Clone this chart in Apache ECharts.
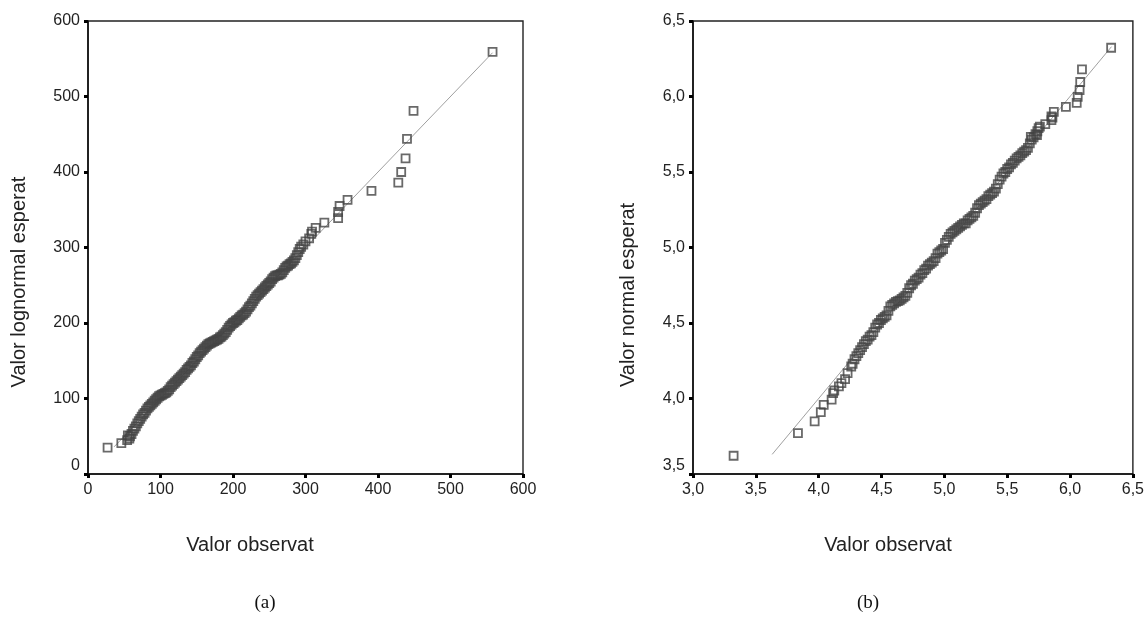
<!DOCTYPE html>
<html>
<head>
<meta charset="utf-8">
<script src="https://cdn.jsdelivr.net/npm/echarts@6/dist/echarts.min.js"></script>
<style>html,body{margin:0;padding:0;background:#fff}#c{width:1147px;height:618px}</style>
</head>
<body>
<div id="c"></div>
<script>
// ---- Panel (a): lognormal Q-Q plot ----
const obsA = [27,46,54,55,57,
58,60,62,64,66,68,70,72,74,76,78,80,82,84,86,88,90,92,94,96,98,100,102,104,106,108,110,112,114,116,118,120,122,124,126,128,130,132,134,136,138,140,142,144,146,148,150,152,154,156,158,160,162,164,166,168,170,172,174,176,178,180,182,184,186,188,190,192,194,196,198,200,202,204,206,208,210,212,214,216,218,220,222,224,226,228,230,232,234,236,238,240,242,244,246,248,250,252,254,256,258,260,262,264,266,268,270,272,274,276,278,280,282,284,286,288,290,
292,294,297,300,305,308,309,314,326,345,345,347,358,391,428,432,438,440,449,558];
const expA = [35,41,45,51,47,
50,53,57,60,63,67,70,73,76,79,81,84,87,89,91,93,95,97,99,101,103,104,105,106,107,108,110,112,115,117,119,121,123,125,127,129,131,133,135,138,140,142,144,147,149,152,155,157,160,162,164,166,168,170,172,173,174,175,176,177,178,179,181,182,184,186,188,191,194,196,198,200,201,203,204,206,208,210,211,213,215,218,221,223,226,229,232,235,237,239,241,243,245,247,249,251,253,255,258,260,262,263,263,264,265,267,270,273,275,276,278,279,281,283,286,290,294,
298,301,304,308,312,318,321,326,333,339,347,355,363,375,386,400,418,444,481,559];
const lineA = [[36,36],[558,558]];
const ticksXA = {min:0, max:600, step:100};
const ticksYA = {min:0, max:600, step:100};

// ---- Panel (b): normal Q-Q plot ----
const obsB = [3.323,3.835,3.968,4.017,4.040,4.103,4.115,4.124,4.161,4.181,4.210,4.230,4.259,
4.27,4.285,4.30,4.315,4.33,4.345,4.36,4.375,4.39,4.405,4.42,4.435,4.45,4.465,4.48,4.495,4.51,4.525,4.54,4.555,4.57,4.585,4.60,4.615,4.63,4.645,4.66,4.675,4.69,4.705,4.72,4.735,4.75,4.765,4.78,4.795,4.81,4.825,4.84,4.855,4.87,4.885,4.90,4.915,4.93,4.945,4.96,4.975,4.99,5.005,5.02,5.035,5.05,5.065,5.08,5.095,5.11,5.125,5.14,5.155,5.17,5.185,5.20,5.215,5.23,5.245,5.26,5.275,5.29,5.305,5.32,5.335,5.35,5.365,5.38,5.395,5.41,5.425,5.44,5.455,5.47,5.485,5.50,5.515,5.53,5.545,5.56,5.575,5.59,5.605,5.62,5.635,5.65,5.665,5.68,5.695,5.71,5.725,5.74,
5.688,5.737,5.75,5.76,5.803,5.852,5.852,5.86,5.871,5.967,6.053,6.061,6.076,6.081,6.095,6.327];
const expB = [3.621,3.771,3.848,3.910,3.958,3.992,4.036,4.053,4.080,4.102,4.128,4.168,4.212,
4.23,4.26,4.28,4.30,4.32,4.34,4.36,4.38,4.39,4.41,4.42,4.44,4.47,4.49,4.50,4.52,4.53,4.54,4.55,4.58,4.61,4.62,4.63,4.64,4.645,4.65,4.66,4.67,4.68,4.70,4.73,4.75,4.76,4.78,4.79,4.80,4.82,4.83,4.85,4.86,4.88,4.89,4.90,4.91,4.93,4.96,4.97,4.98,4.99,5.03,5.05,5.07,5.09,5.10,5.11,5.12,5.13,5.14,5.15,5.16,5.16,5.18,5.19,5.20,5.21,5.23,5.26,5.28,5.29,5.30,5.31,5.32,5.34,5.35,5.36,5.37,5.39,5.42,5.45,5.47,5.49,5.50,5.52,5.53,5.55,5.56,5.575,5.59,5.60,5.61,5.625,5.635,5.645,5.66,5.69,5.715,5.73,5.75,5.77,
5.733,5.744,5.79,5.80,5.817,5.843,5.869,5.86,5.898,5.931,5.958,5.997,6.042,6.096,6.180,6.323];
const lineB = [[3.63,3.63],[6.33,6.33]];
const ticksXB = {min:3.0, max:6.5, step:0.5};
const ticksYB = {min:3.5, max:6.5, step:0.5};

const titles = {
  yA: 'Valor lognormal esperat',
  yB: 'Valor normal esperat',
  x: 'Valor observat',
  capA: '(a)',
  capB: '(b)'
};

const SANS = '"Liberation Sans", Arial, sans-serif';
const fmtInt = v => String(v);
const fmtComma = v => v.toFixed(1).replace('.', ',');
// the lowest y label sits a little above its tick in the reference
const liftFirst = (fmt, min) => v => (Math.abs(v - min) < 1e-9 ? '{lift|' + fmt(v) + '}' : fmt(v));

function axisCommon(gi, t, fmt, rich) {
  return {
    type: 'value', gridIndex: gi, min: t.min, max: t.max, interval: t.step,
    splitLine: {show: false},
    axisLine: {show: true, onZero: false, lineStyle: {color: '#111', width: 1.6}},
    axisTick: {show: true, length: 4, lineStyle: {color: '#000', width: 3}},
    axisLabel: {fontFamily: SANS, fontSize: 16, color: '#222', margin: 8, formatter: fmt,
      rich: rich || {}}
  };
}
const liftRich = {lift: {fontFamily: SANS, fontSize: 16, color: '#222', padding: [0, 0, 16, 0]}};

const pairs = (xs, ys) => xs.map((x, i) => [x, ys[i]]);

const chart = echarts.init(document.getElementById('c'), null, {renderer: 'canvas'});
const markerStyle = {color: 'rgba(0,0,0,0)', borderColor: '#444444', borderWidth: 1.8};

chart.setOption({
  animation: false,
  backgroundColor: '#fff',
  grid: [
    {left: 88, top: 21, width: 435, height: 453, show: true, borderColor: '#222', borderWidth: 1.4, backgroundColor: 'transparent'},
    {left: 693, top: 21, width: 440, height: 453, show: true, borderColor: '#222', borderWidth: 1.4, backgroundColor: 'transparent'}
  ],
  xAxis: [
    axisCommon(0, ticksXA, fmtInt),
    axisCommon(1, ticksXB, fmtComma)
  ],
  yAxis: [
    axisCommon(0, ticksYA, liftFirst(fmtInt, ticksYA.min), liftRich),
    axisCommon(1, ticksYB, liftFirst(fmtComma, ticksYB.min), liftRich)
  ],
  series: [
    {type: 'line', xAxisIndex: 0, yAxisIndex: 0, data: lineA, symbol: 'none',
     lineStyle: {color: '#a0a0a0', width: 1}, z: 1, silent: true},
    {type: 'scatter', xAxisIndex: 0, yAxisIndex: 0, data: pairs(obsA, expA),
     symbol: 'rect', symbolSize: 8, itemStyle: markerStyle, z: 2},
    {type: 'line', xAxisIndex: 1, yAxisIndex: 1, data: lineB, symbol: 'none',
     lineStyle: {color: '#a0a0a0', width: 1}, z: 1, silent: true},
    {type: 'scatter', xAxisIndex: 1, yAxisIndex: 1, data: pairs(obsB, expB),
     symbol: 'rect', symbolSize: 8, itemStyle: markerStyle, z: 2}
  ],
  graphic: [
    {type: 'text', x: 19, y: 282, rotation: Math.PI / 2,
     style: {text: titles.yA, font: '20px ' + SANS, fill: '#222', align: 'center', verticalAlign: 'middle'}},
    {type: 'text', x: 628, y: 295, rotation: Math.PI / 2,
     style: {text: titles.yB, font: '20px ' + SANS, fill: '#222', align: 'center', verticalAlign: 'middle'}},
    {type: 'text', x: 250, y: 545,
     style: {text: titles.x, font: '20px ' + SANS, fill: '#222', align: 'center', verticalAlign: 'middle'}},
    {type: 'text', x: 888, y: 545,
     style: {text: titles.x, font: '20px ' + SANS, fill: '#222', align: 'center', verticalAlign: 'middle'}},
    {type: 'text', x: 265, y: 603,
     style: {text: titles.capA, font: '19px "Liberation Serif", "DejaVu Serif", serif', fill: '#111', align: 'center', verticalAlign: 'middle'}},
    {type: 'text', x: 868, y: 603,
     style: {text: titles.capB, font: '19px "Liberation Serif", "DejaVu Serif", serif', fill: '#111', align: 'center', verticalAlign: 'middle'}}
  ]
});
</script>
</body>
</html>
